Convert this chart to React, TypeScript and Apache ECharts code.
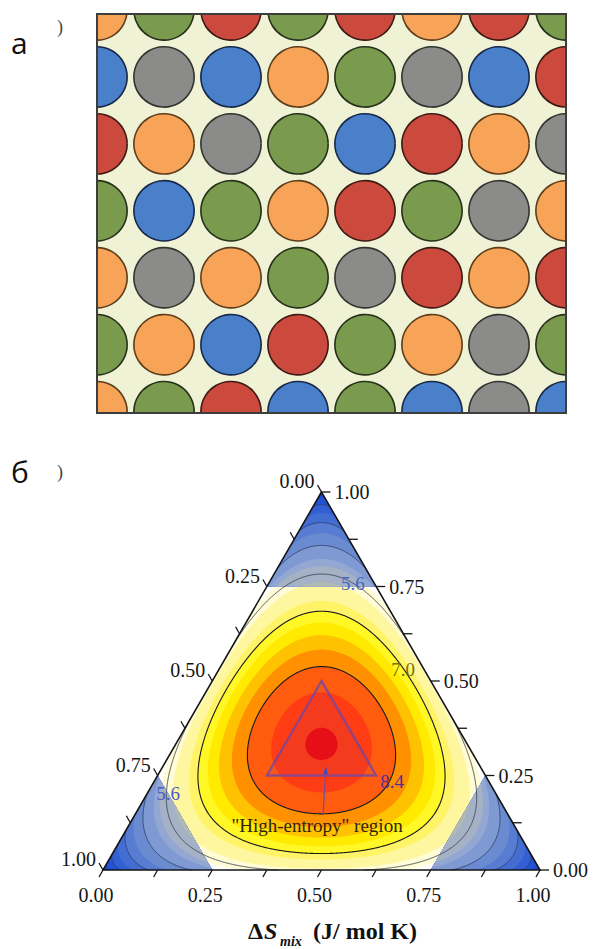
import React, { useEffect, useRef } from 'react';
import * as echarts from 'echarts';

// ---------------- Panel а: random solid-solution lattice ----------------
const atomKinds = ['orange', 'green', 'red', 'blue', 'grey'];
const atomFill = ['#f7a458', '#7a9b4e', '#cb4a3d', '#4a80c9', '#8b8b89'];
const atomStroke = ['#5e3d1a', '#26301a', '#3e1a14', '#17284a', '#333331'];
const latticeColumns = [0, 1, 2, 3, 4, 5, 6, 7];
const latticeRows = [0, 1, 2, 3, 4, 5, 6];
const latticeRowColors: string[][] = [
  ['orange', 'green', 'red', 'green', 'red', 'orange', 'red', 'green'],
  ['blue', 'grey', 'blue', 'orange', 'green', 'grey', 'blue', 'red'],
  ['red', 'orange', 'grey', 'green', 'blue', 'red', 'orange', 'grey'],
  ['green', 'blue', 'green', 'orange', 'red', 'green', 'grey', 'orange'],
  ['orange', 'grey', 'orange', 'green', 'grey', 'red', 'orange', 'red'],
  ['green', 'orange', 'blue', 'red', 'green', 'orange', 'grey', 'green'],
  ['orange', 'green', 'red', 'blue', 'green', 'blue', 'grey', 'blue'],
];

// ---------------- Panel б: ternary ΔS_mix map ----------------
const R_GAS = 8.314; // J/(mol K), ideal mixing entropy ΔS = -R Σ x ln x
const contourLevels = [1.4, 2.8, 4.2, 5.6, 7.0, 8.4];
const contourColors = ['#2c3f78', '#2c3f78', '#33436c', '#3b4456', '#1a1a1a', '#1a1a1a'];
const centralLevels = [5.25, 5.95, 6.65, 7.0, 7.35, 7.7, 8.05, 8.4, 8.8, 9.1];
const centralColors = ['#fffcd6', '#fff7a0', '#fff468', '#fff826', '#ffea00', '#ffc200', '#ff9000', '#ff5c10', '#ff3c14', '#f00c0c'];
const cornerLevels = [0, 0.7, 1.4, 2.1, 2.8, 3.5, 4.2, 4.9, 5.25, 5.95];
const cornerColors = ['#1546d6', '#2352d4', '#325fd3', '#446dd2', '#577cd1', '#6b8bd1', '#7f99d2', '#93a7d3', '#a5b1c5', '#b1b9b2'];
const cornerThreshold = 0.75;
const tickValues = [0, 0.125, 0.25, 0.375, 0.5, 0.625, 0.75, 0.875, 1];
const tickLabels = ['0.00', '', '0.25', '', '0.50', '', '0.75', '', '1.00'];
// compositions (top, left, right)
const highEntropyRegion = [
  [0.5, 0.25, 0.25],
  [0.25, 0.5, 0.25],
  [0.25, 0.25, 0.5],
];
const contourLabelTexts = ['5.6', '5.6', '7.0', '8.4'];
const contourLabelColors = ['#3d68c8', '#4a5cc0', '#7a6e00', '#5a2a9a'];
const contourLabelAt = [
  [0.758, 0.049, 0.193],
  [0.2035, 0.7495, 0.047],
  [0.531, 0.048, 0.421],
  [0.235, 0.221, 0.544],
];
const annotationText = '"High-entropy" region';
const annotationAt = [0.119, 0.4508, 0.4303];
const arrowFrom = [0.1453, 0.4239, 0.4308];
const arrowTo = [0.2722, 0.3536, 0.3742];

const SQ = Math.sqrt(3) / 2;
const CENTER = [0.5, SQ / 3];
const RAYS = 1440;

function ternToCart(a: number, b: number, c: number): number[] {
  return [c + a / 2, a * SQ];
}
function mixingEntropy(a: number, b: number, c: number) {
  let s = 0;
  if (a > 1e-12) s -= a * Math.log(a);
  if (b > 1e-12) s -= b * Math.log(b);
  if (c > 1e-12) s -= c * Math.log(c);
  return R_GAS * s;
}
type Ray = { da: number; db: number; dc: number; dx: number; dy: number; rEdge: number };
const rays: Ray[] = [];
for (let k = 0; k < RAYS; k++) {
  const th = (2 * Math.PI * k) / RAYS;
  const dx = Math.cos(th), dy = Math.sin(th);
  const da = dy / SQ;
  const dc = dx - da / 2;
  const db = -da - dc;
  let rEdge = Infinity;
  for (const d of [da, db, dc]) if (d < -1e-12) rEdge = Math.min(rEdge, (1 / 3) / -d);
  rays.push({ da, db, dc, dx, dy, rEdge });
}
function sAt(ray: Ray, r: number) {
  return mixingEntropy(1 / 3 + ray.da * r, 1 / 3 + ray.db * r, 1 / 3 + ray.dc * r);
}
const boundaryCache = new Map<number, { p: number[]; edge: boolean }[]>();
function boundary(L: number) {
  const hit = boundaryCache.get(L);
  if (hit) return hit;
  const res = rays.map((ray) => {
    const rE = ray.rEdge * 0.999999;
    if (sAt(ray, rE) >= L) {
      return { p: [CENTER[0] + ray.dx * ray.rEdge, CENTER[1] + ray.dy * ray.rEdge], edge: true };
    }
    let lo = 0, hi = rE;
    for (let i = 0; i < 36; i++) {
      const m = (lo + hi) / 2;
      if (sAt(ray, m) >= L) lo = m; else hi = m;
    }
    return { p: [CENTER[0] + ray.dx * lo, CENTER[1] + ray.dy * lo], edge: false };
  });
  boundaryCache.set(L, res);
  return res;
}
function signedArea(poly: number[][]) {
  let s = 0;
  for (let i = 0; i < poly.length; i++) {
    const p = poly[i], q = poly[(i + 1) % poly.length];
    s += p[0] * q[1] - q[0] * p[1];
  }
  return s / 2;
}
function intersect(P: number[], Q: number[], A: number[], B: number[]) {
  const x1 = P[0], y1 = P[1], x2 = Q[0], y2 = Q[1];
  const x3 = A[0], y3 = A[1], x4 = B[0], y4 = B[1];
  const den = (x1 - x2) * (y3 - y4) - (y1 - y2) * (x3 - x4);
  const t = ((x1 - x3) * (y3 - y4) - (y1 - y3) * (x3 - x4)) / den;
  return [x1 + t * (x2 - x1), y1 + t * (y2 - y1)];
}
function clipPolygon(subject: number[][], clipIn: number[][]) {
  const clip = signedArea(clipIn) < 0 ? clipIn.slice().reverse() : clipIn;
  let output = subject;
  for (let i = 0; i < clip.length; i++) {
    const A = clip[i], B = clip[(i + 1) % clip.length];
    const input = output;
    output = [];
    if (!input.length) break;
    const inside = (P: number[]) => (B[0] - A[0]) * (P[1] - A[1]) - (B[1] - A[1]) * (P[0] - A[0]) >= 0;
    for (let j = 0; j < input.length; j++) {
      const P = input[j], Q = input[(j + 1) % input.length];
      const pin = inside(P), qin = inside(Q);
      if (pin) {
        output.push(P);
        if (!qin) output.push(intersect(P, Q, A, B));
      } else if (qin) {
        output.push(intersect(P, Q, A, B));
      }
    }
  }
  return output;
}
function contourRuns(L: number) {
  const bd = boundary(L);
  const n = bd.length;
  const start = bd.findIndex((q) => q.edge);
  const runs: number[][][] = [];
  if (start < 0) {
    const pts = bd.map((q) => q.p);
    pts.push(pts[0]);
    runs.push(pts);
    return runs;
  }
  let cur: number[][] = [];
  let prevEdge: number[] | null = bd[start].p;
  for (let k = 1; k <= n; k++) {
    const q = bd[(start + k) % n];
    if (q.edge) {
      if (cur.length > 1) { cur.push(q.p); runs.push(cur); }
      cur = [];
      prevEdge = q.p;
    } else {
      if (cur.length === 0 && prevEdge) cur.push(prevEdge);
      cur.push(q.p);
    }
  }
  if (cur.length > 1) runs.push(cur);
  return runs;
}

const cornerTriangles = [
  [[1, 0, 0], [cornerThreshold, 1 - cornerThreshold, 0], [cornerThreshold, 0, 1 - cornerThreshold]],
  [[0, 1, 0], [1 - cornerThreshold, cornerThreshold, 0], [0, cornerThreshold, 1 - cornerThreshold]],
  [[0, 0, 1], [1 - cornerThreshold, 0, cornerThreshold], [0, 1 - cornerThreshold, cornerThreshold]],
].map((tri) => tri.map((t) => ternToCart(t[0], t[1], t[2])));

const centralPolys = centralLevels.map((L) => boundary(L).map((q) => q.p));
const cornerPolys: { pts: number[][]; color: string }[] = [];
cornerTriangles.forEach((tri) => {
  cornerLevels.forEach((L, i) => {
    const pts = L <= 0 ? tri : clipPolygon(boundary(L).map((q) => q.p), tri);
    if (pts.length > 2) cornerPolys.push({ pts, color: cornerColors[i] });
  });
});
const contourPaths = contourLevels.map((L, i) => ({ runs: contourRuns(L), color: contourColors[i] }));

const SERIF = '"Liberation Serif", "Times New Roman", serif';
const SANS = '"Open Sans", "Noto Sans", sans-serif';

function buildOption(): any {
  const latticeData: number[][] = [];
  latticeRows.forEach((r) => {
    latticeColumns.forEach((c) => {
      latticeData.push([c, r, atomKinds.indexOf(latticeRowColors[r][c])]);
    });
  });

  const ternaryRender = (_params: any, api: any) => {
    const px = (p: number[]) => api.coord(p);
    const tpx = (t: number[]) => api.coord(ternToCart(t[0], t[1], t[2]));
    const children: any[] = [];
    centralPolys.forEach((poly, i) => {
      children.push({ type: 'polygon', silent: true, shape: { points: poly.map(px) }, style: { fill: centralColors[i] } });
    });
    cornerPolys.forEach((cp) => {
      children.push({ type: 'polygon', silent: true, shape: { points: cp.pts.map(px) }, style: { fill: cp.color } });
    });
    contourPaths.forEach((cp, i) => {
      cp.runs.forEach((run) => {
        children.push({
          type: 'polyline', silent: true, shape: { points: run.map(px) },
          style: { fill: null, stroke: cp.color, lineWidth: i >= 4 ? 1.1 : 0.9 },
        });
      });
    });
    // inner high-entropy triangle
    children.push({
      type: 'polygon', silent: true,
      shape: { points: highEntropyRegion.map(tpx) },
      style: { fill: 'rgba(120,60,170,0.07)', stroke: 'rgba(110,70,170,0.75)', lineWidth: 2.4 },
    });
    // outline
    children.push({
      type: 'polygon', silent: true,
      shape: { points: [tpx([1, 0, 0]), tpx([0, 1, 0]), tpx([0, 0, 1])] },
      style: { fill: null, stroke: '#151515', lineWidth: 1.6 },
    });
    // ticks and labels
    const labelStyle = { fill: '#151515', fontSize: 20, fontFamily: SERIF };
    tickValues.forEach((t, i) => {
      const pb = tpx([0, 1 - t, t]);
      const pl = tpx([1 - t, t, 0]);
      const pr = tpx([t, 0, 1 - t]);
      children.push({ type: 'line', silent: true, shape: { x1: pb[0], y1: pb[1], x2: pb[0] - 4, y2: pb[1] + 7 }, style: { stroke: '#151515', lineWidth: 1.3 } });
      children.push({ type: 'line', silent: true, shape: { x1: pl[0], y1: pl[1], x2: pl[0] - 4, y2: pl[1] - 7 }, style: { stroke: '#151515', lineWidth: 1.3 } });
      children.push({ type: 'line', silent: true, shape: { x1: pr[0], y1: pr[1], x2: pr[0] + 9, y2: pr[1] }, style: { stroke: '#151515', lineWidth: 1.3 } });
      const lab = tickLabels[i];
      if (lab) {
        children.push({ type: 'text', silent: true, x: pb[0] - 7, y: pb[1] + 25, style: { ...labelStyle, text: lab, align: 'center', verticalAlign: 'middle' } });
        children.push({ type: 'text', silent: true, x: pl[0] - 7, y: pl[1] - 11, style: { ...labelStyle, text: lab, align: 'right', verticalAlign: 'middle' } });
        children.push({ type: 'text', silent: true, x: pr[0] + 13, y: pr[1], style: { ...labelStyle, text: lab, align: 'left', verticalAlign: 'middle' } });
      }
    });
    // contour labels
    contourLabelTexts.forEach((txt, i) => {
      const p = tpx(contourLabelAt[i]);
      children.push({
        type: 'text', silent: true, x: p[0], y: p[1],
        style: { text: txt, fill: contourLabelColors[i], fontSize: 19, fontFamily: SERIF, align: 'center', verticalAlign: 'middle' },
      });
    });
    // annotation with arrow
    const a0 = tpx(arrowFrom), a1 = tpx(arrowTo);
    children.push({ type: 'line', silent: true, shape: { x1: a0[0], y1: a0[1], x2: a1[0], y2: a1[1] }, style: { stroke: '#6a50a8', lineWidth: 1.2 } });
    const dx = a1[0] - a0[0], dy = a1[1] - a0[1];
    const len = Math.hypot(dx, dy);
    const ux = dx / len, uy = dy / len;
    children.push({
      type: 'polygon', silent: true,
      shape: { points: [[a1[0], a1[1]], [a1[0] - ux * 7 - uy * 2.6, a1[1] - uy * 7 + ux * 2.6], [a1[0] - ux * 7 + uy * 2.6, a1[1] - uy * 7 - ux * 2.6]] },
      style: { fill: '#3a4ec0' },
    });
    const an = tpx(annotationAt);
    children.push({
      type: 'text', silent: true, x: an[0], y: an[1],
      style: { text: annotationText, fill: '#2e2410', fontSize: 19, fontFamily: SERIF, align: 'center', verticalAlign: 'middle' },
    });
    return { type: 'group', children };
  };

  return {
    animation: false,
    backgroundColor: '#ffffff',
    grid: [
      { left: 97, top: 14, width: 469, height: 399, show: true, backgroundColor: '#eff2d4', borderWidth: 0 },
      { left: 103, top: 492, width: 437, height: 378, show: false },
    ],
    xAxis: [
      { gridIndex: 0, type: 'value', min: 0, max: 7, show: false },
      { gridIndex: 1, type: 'value', min: 0, max: 1, show: false },
    ],
    yAxis: [
      { gridIndex: 0, type: 'value', min: 0.06, max: 6.02, inverse: true, show: false },
      { gridIndex: 1, type: 'value', min: 0, max: SQ, show: false },
    ],
    series: [
      {
        type: 'custom',
        xAxisIndex: 0,
        yAxisIndex: 0,
        clip: true,
        silent: true,
        data: latticeData,
        renderItem: (_p: any, api: any) => {
          const c = api.coord([api.value(0), api.value(1)]);
          const r = api.size([1, 1])[0] * 0.45;
          const k = api.value(2) as number;
          return {
            type: 'circle',
            shape: { cx: c[0], cy: c[1], r },
            style: { fill: atomFill[k], stroke: atomStroke[k], lineWidth: 1.6 },
          };
        },
      },
      {
        type: 'custom',
        xAxisIndex: 1,
        yAxisIndex: 1,
        clip: false,
        silent: true,
        data: [[0.5, 0.3]],
        renderItem: ternaryRender,
      },
    ],
    graphic: [
      { type: 'rect', z: 100, silent: true, shape: { x: 97, y: 14, width: 469, height: 399 }, style: { fill: null, stroke: '#3d3d3d', lineWidth: 2 } },
      { type: 'text', z: 100, x: 11, y: 42, style: { text: 'а', fill: '#111', fontSize: 30, fontFamily: SANS, verticalAlign: 'middle' } },
      { type: 'text', z: 100, x: 60, y: 27, style: { text: ')', fill: '#444', fontSize: 18, fontFamily: SERIF, align: 'center', verticalAlign: 'middle' } },
      { type: 'text', z: 100, x: 11, y: 471, style: { text: 'б', fill: '#111', fontSize: 30, fontFamily: SANS, verticalAlign: 'middle' } },
      { type: 'text', z: 100, x: 60, y: 472, style: { text: ')', fill: '#444', fontSize: 18, fontFamily: SERIF, align: 'center', verticalAlign: 'middle' } },
      { type: 'text', z: 100, x: 248, y: 931, style: { text: 'Δ', fill: '#111', fontSize: 24, fontWeight: 'bold', fontFamily: SERIF, verticalAlign: 'middle' } },
      { type: 'text', z: 100, x: 264, y: 931, style: { text: 'S', fill: '#111', fontSize: 24, fontWeight: 'bold', fontStyle: 'italic', fontFamily: SERIF, verticalAlign: 'middle' } },
      { type: 'text', z: 100, x: 280, y: 941, style: { text: 'mix', fill: '#111', fontSize: 14, fontWeight: 'bold', fontStyle: 'italic', fontFamily: SERIF, verticalAlign: 'middle' } },
      { type: 'text', z: 100, x: 313, y: 931, style: { text: '(J/ mol K)', fill: '#111', fontSize: 24, fontWeight: 'bold', fontFamily: SERIF, verticalAlign: 'middle' } },
    ],
  };
}

export default function App() {
  const ref = useRef<HTMLDivElement>(null);
  useEffect(() => {
    if (!ref.current) return;
    const chart = echarts.init(ref.current, null, { renderer: 'svg' });
    chart.setOption(buildOption());
    return () => chart.dispose();
  }, []);
  return (
    <div
      ref={ref}
      style={{ position: 'fixed', left: 0, top: 0, width: 595, height: 949, background: '#ffffff' }}
    />
  );
}
